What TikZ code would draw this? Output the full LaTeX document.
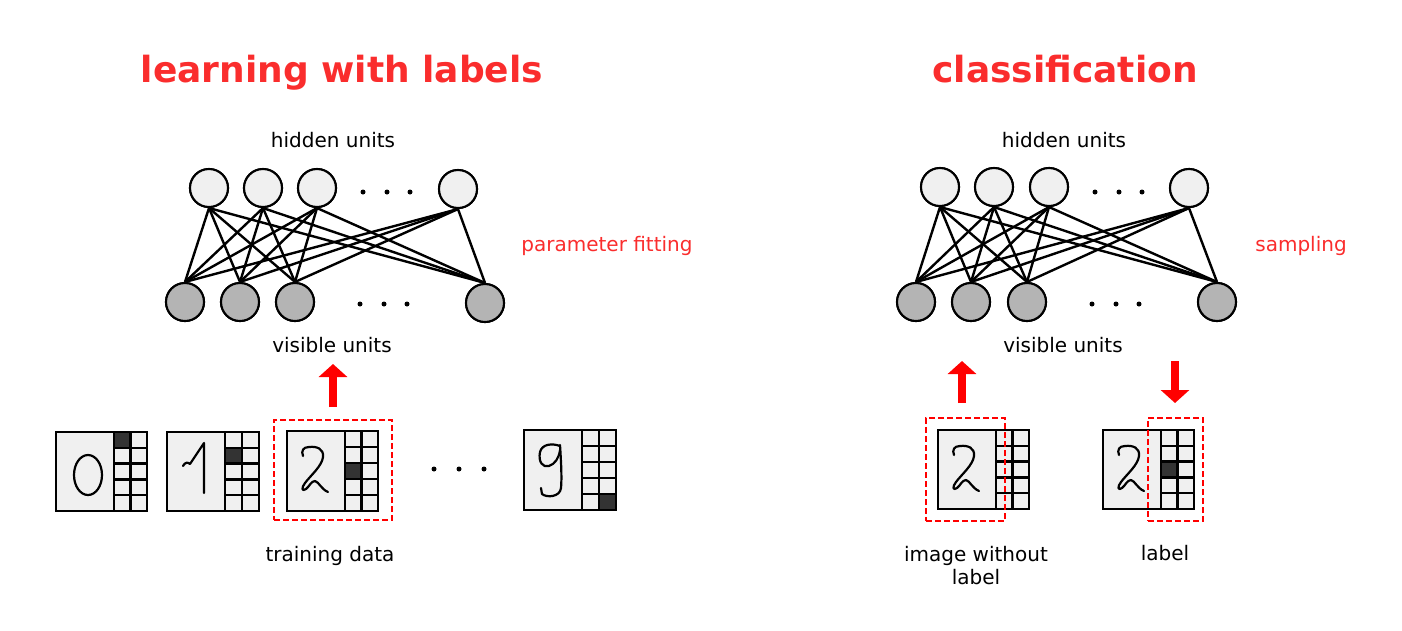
\documentclass[tikz,border=0pt]{standalone}
\usepackage{fontspec}
\setmainfont{DejaVu Sans}
\usetikzlibrary{arrows.meta}
\definecolor{hidfill}{HTML}{F0F0F0}
\definecolor{visfill}{HTML}{B4B4B4}
\definecolor{darkcell}{HTML}{333333}
\definecolor{titlered}{RGB}{250,45,45}
\definecolor{arrowred}{RGB}{255,0,0}
\newcommand\mnistcard[6]{% x, y, w, h, dark col, dark row
  \fill[hidfill] (#1,#2) rectangle ++(#3,#4);
  \ifnum#6>-1
    \fill[darkcell] ({#1+58+#5*(#3-58)/2},{#2+#6*#4/5}) rectangle ++({(#3-58)/2},{#4/5});
  \fi
  \foreach \k in {1,...,4} \draw[cardline] ({#1+58},{#2+\k*#4/5}) -- ({#1+#3},{#2+\k*#4/5});
  \draw[cardline] ({#1+58},#2) -- ({#1+58},{#2+#4});
  \draw[cardline] ({#1+58+(#3-58)/2},#2) -- ({#1+58+(#3-58)/2},{#2+#4});
  \draw[cardline] (#1,#2) rectangle ++(#3,#4);
}
\newcommand\digittwo[2]{%
  \draw[pen,shift={(#1,#2)}] (16,25) .. controls (14,20) and (16,16) .. (22,16)
    .. controls (30,15) and (37,18) .. (36,26)
    .. controls (35,35) and (24,44) .. (18,52)
    .. controls (14,57) and (15,61) .. (19,58)
    .. controls (22,56) and (24,50) .. (28,50)
    .. controls (32,51) and (34,58) .. (41,61);
}
\begin{document}
\begin{tikzpicture}[x=1pt,y=-1pt,
  hid/.style={circle,draw=black,line width=2.1pt,fill=hidfill,minimum size=38pt,inner sep=0pt},
  vis/.style={circle,draw=black,line width=2.1pt,fill=visfill,minimum size=38pt,inner sep=0pt},
  edge/.style={line width=2.4pt,black},
  lbl/.style={font=\fontsize{20}{23}\selectfont,inner sep=0pt},
  redlbl/.style={font=\fontsize{20}{24}\selectfont,inner sep=0pt,text=titlered},
  ttl/.style={font=\fontsize{36}{42}\selectfont\bfseries,inner sep=0pt,text=titlered},
  dot/.style={circle,fill=black,minimum size=5pt,inner sep=0pt},
  cardline/.style={line width=2.5pt,black},
  pen/.style={line width=2.2pt,black,line cap=round,line join=round},
  dashbox/.style={draw=arrowred,line width=2.5pt,dash pattern=on 6pt off 3pt,inner sep=0pt},
  bigarrow/.style={draw=arrowred,line width=8.5pt,-{Triangle[width=28pt,length=13pt]}}
]
\useasboundingbox (0,0) rectangle (1402,630);

% titles
\node[ttl,anchor=base] (t1) at (342,82) {learning with labels};
\node[ttl,anchor=base] (t2) at (1065,82) {classification};

% ---------- left network ----------
\node[lbl] (hl) at (333,140) {hidden units};
\node[hid] (a1) at (209,188) {};
\node[hid] (a2) at (263,188) {};
\node[hid] (a3) at (317,188) {};
\node[hid] (a4) at (458,189) {};
\node[vis] (b1) at (185,302) {};
\node[vis] (b2) at (240,302) {};
\node[vis] (b3) at (295,302) {};
\node[vis] (b4) at (485,303) {};
\foreach \i in {1,...,4}{\foreach \j in {1,...,4}{\draw[edge] (a\i.south) -- (b\j.north);}}
\foreach \i in {1,...,4}{\node[hid] at (a\i) {}; \node[vis] at (b\i) {};}
\node[dot] (da1) at (363,192) {};
\node[dot] (da2) at (387,192) {};
\node[dot] (da3) at (410,192) {};
\node[dot] (db1) at (360,304) {};
\node[dot] (db2) at (384,304) {};
\node[dot] (db3) at (407,304) {};
\node[lbl] (vl) at (332,345) {visible units};
\node[redlbl,anchor=base] (pf) at (607,251) {parameter fitting};

% ---------- right network ----------
\node[lbl] (hr) at (1064,140) {hidden units};
\node[hid] (c1) at (940,187) {};
\node[hid] (c2) at (994,187) {};
\node[hid] (c3) at (1049,187) {};
\node[hid] (c4) at (1189,188) {};
\node[vis] (e1) at (916,302) {};
\node[vis] (e2) at (971,302) {};
\node[vis] (e3) at (1027,302) {};
\node[vis] (e4) at (1217,302) {};
\foreach \i in {1,...,4}{\foreach \j in {1,...,4}{\draw[edge] (c\i.south) -- (e\j.north);}}
\foreach \i in {1,...,4}{\node[hid] at (c\i) {}; \node[vis] at (e\i) {};}
\node[dot] (dc1) at (1095,192) {};
\node[dot] (dc2) at (1119,192) {};
\node[dot] (dc3) at (1142,192) {};
\node[dot] (de1) at (1092,304) {};
\node[dot] (de2) at (1116,304) {};
\node[dot] (de3) at (1139,304) {};
\node[lbl] (vr) at (1063,345) {visible units};
\node[redlbl,anchor=base] (sp) at (1301,251) {sampling};

% ---------- arrows ----------
\coordinate (la0) at (333,407); \coordinate (la1) at (333,364);
\draw[bigarrow] (la0) -- (la1);
\coordinate (ra0) at (962,403); \coordinate (ra1) at (962,361);
\draw[bigarrow] (ra0) -- (ra1);
\coordinate (rb0) at (1175,361); \coordinate (rb1) at (1175,403);
\draw[bigarrow] (rb0) -- (rb1);

% ---------- training cards ----------
\mnistcard{56}{432}{91}{79}{0}{0}
\draw[pen] (88,475) ellipse [x radius=14, y radius=20];
\mnistcard{167}{432}{92}{79}{0}{1}
\draw[pen] (183,466) .. controls (185,462) and (188,462) .. (190,464) -- (204,443) -- (204,493);
\mnistcard{287}{431}{91}{80}{0}{2}
\digittwo{287}{431}
\node[dot] (dt1) at (434,469) {};
\node[dot] (dt2) at (459,469) {};
\node[dot] (dt3) at (484,469) {};
\mnistcard{524}{430}{92}{80}{1}{4}
\draw[pen] (560,446) .. controls (552,443) and (542,444) .. (540,452)
  .. controls (538,462) and (543,468) .. (549,466)
  .. controls (555,464) and (559,458) .. (560,450);
\draw[pen] (560,445) .. controls (561,460) and (562,478) .. (561,488)
  .. controls (560,497) and (547,498) .. (542,494) -- (541,488);
\node[dashbox,minimum width=118pt,minimum height=100pt] (sel) at (333,470) {};
\node[lbl,anchor=base] (td) at (330,561) {training data};

% ---------- classification cards ----------
\mnistcard{938}{430}{91}{79}{0}{-1}
\digittwo{938}{430}
\node[dashbox,minimum width=79pt,minimum height=103pt] (img) at (965.5,469.5) {};
\mnistcard{1103}{430}{91}{79}{0}{2}
\digittwo{1103}{430}
\node[dashbox,minimum width=55pt,minimum height=103pt] (lab) at (1175.5,469.5) {};
\node[lbl,align=center,anchor=north] (iw) at (976,546.5) {image without\\label};
\node[lbl,anchor=base] (lb) at (1165,560) {label};
\end{tikzpicture}
\end{document}
